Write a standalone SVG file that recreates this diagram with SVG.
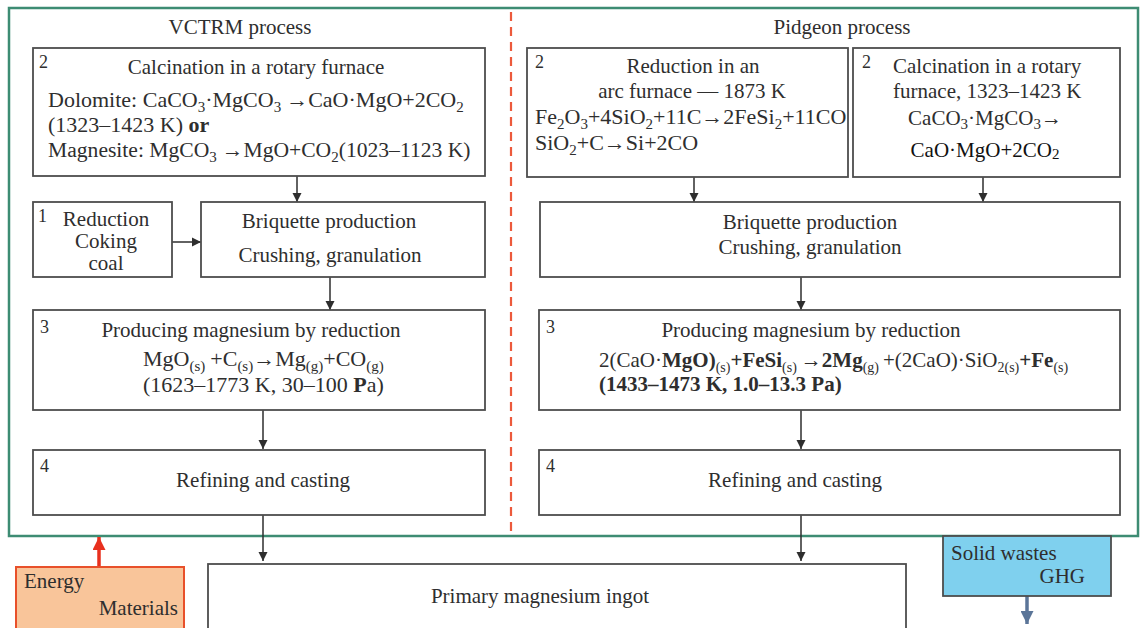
<svg xmlns="http://www.w3.org/2000/svg" width="1142" height="628" viewBox="0 0 1142 628">
<style>
.t{font-family:"Liberation Serif","Times New Roman",serif;font-size:21px;fill:#2e2e2e}
.n{font-family:"Liberation Serif","Times New Roman",serif;font-size:18px;fill:#2e2e2e}
.c{text-anchor:middle}
.b{font-weight:bold}
.w{font-size:22px}
.box{fill:#fff;stroke:#4d4d4d;stroke-width:1.8}
.ln{stroke:#2e2e2e;stroke-width:1.5;fill:none}
</style>
<defs>
<marker id="ah" viewBox="0 0 10 10" refX="10" refY="5" markerWidth="9" markerHeight="10" markerUnits="userSpaceOnUse" orient="auto">
<path d="M0,0 L10,5 L0,10 z" fill="#2e2e2e"/>
</marker>
<marker id="ahRed" viewBox="0 0 10 10" refX="10" refY="5" markerWidth="13" markerHeight="13" markerUnits="userSpaceOnUse" orient="auto">
<path d="M0,0 L10,5 L0,10 z" fill="#e8301e"/>
</marker>
<marker id="ahBlue" viewBox="0 0 10 10" refX="10" refY="5" markerWidth="13" markerHeight="13" markerUnits="userSpaceOnUse" orient="auto">
<path d="M0,0 L10,5 L0,10 z" fill="#5b7598"/>
</marker>
</defs>
<rect width="1142" height="628" fill="#fff"/>

<g id="frame">
<rect x="9" y="8" width="1129" height="528" fill="none" stroke="#3d8c73" stroke-width="2.5"/>
<line x1="511" y1="12" x2="511" y2="534" stroke="#ec5a3c" stroke-width="2.2" stroke-dasharray="9,6"/>
<text class="t c" x="240" y="34">VCTRM process</text>
<text class="t c" x="842" y="34">Pidgeon process</text>
</g>

<g id="connectors">
<line class="ln" x1="297" y1="176" x2="297" y2="202" marker-end="url(#ah)"/>
<line class="ln" x1="172" y1="242" x2="201" y2="242" marker-end="url(#ah)"/>
<line class="ln" x1="330" y1="277" x2="330" y2="310" marker-end="url(#ah)"/>
<line class="ln" x1="263" y1="410" x2="263" y2="449" marker-end="url(#ah)"/>
<line class="ln" x1="263" y1="515" x2="263" y2="561" marker-end="url(#ah)"/>
<line class="ln" x1="694" y1="177" x2="694" y2="202" marker-end="url(#ah)"/>
<line class="ln" x1="983" y1="177" x2="983" y2="202" marker-end="url(#ah)"/>
<line class="ln" x1="801" y1="277" x2="801" y2="310" marker-end="url(#ah)"/>
<line class="ln" x1="801" y1="410" x2="801" y2="449" marker-end="url(#ah)"/>
<line class="ln" x1="801" y1="515" x2="801" y2="561" marker-end="url(#ah)"/>
<line x1="99" y1="567" x2="99" y2="537" stroke="#e8301e" stroke-width="3.5" marker-end="url(#ahRed)"/>
<line x1="1027" y1="596" x2="1027" y2="624" stroke="#5b7598" stroke-width="3.5" marker-end="url(#ahBlue)"/>
</g>

<g id="vctrm-calcination">
<rect class="box" x="33" y="48" width="452" height="128"/>
<text class="n" x="39" y="68">2</text>
<text class="t c" x="256" y="74">Calcination in a rotary furnace</text>
<text class="t w" x="48" y="107">Dolomite: CaCO<tspan font-size="15" dy="5">3</tspan><tspan dy="-5">·MgCO</tspan><tspan font-size="15" dy="5">3</tspan><tspan dy="-5" dx="5">→CaO·MgO+2CO</tspan><tspan font-size="15" dy="5">2</tspan></text>
<text class="t w" x="48" y="132">(1323–1423 K) <tspan class="b">or</tspan></text>
<text class="t" x="48" y="157" style="font-size:21.6px">Magnesite: MgCO<tspan font-size="15" dy="5">3</tspan><tspan dy="-5" dx="5">→MgO+CO</tspan><tspan font-size="15" dy="5">2</tspan><tspan dy="-5">(1023–1123 K)</tspan></text>
</g>

<g id="vctrm-reduction">
<rect class="box" x="33" y="202" width="139" height="75"/>
<text class="n" x="38" y="222">1</text>
<text class="t c" x="106" y="226">Reduction</text>
<text class="t c" x="106" y="248">Coking</text>
<text class="t c" x="106" y="270">coal</text>
</g>

<g id="vctrm-briquette">
<rect class="box" x="201" y="202" width="284" height="75"/>
<text class="t c" x="329" y="228">Briquette production</text>
<text class="t c" x="330" y="262">Crushing, granulation</text>
</g>

<g id="vctrm-producing">
<rect class="box" x="33" y="310" width="452" height="100"/>
<text class="n" x="40" y="333">3</text>
<text class="t c" x="251" y="337">Producing magnesium by reduction</text>
<text class="t w" x="143" y="366">MgO<tspan font-size="15" dy="5">(s)</tspan><tspan dy="-5" dx="5">+C</tspan><tspan font-size="15" dy="5">(s)</tspan><tspan dy="-5">→Mg</tspan><tspan font-size="15" dy="5">(g)</tspan><tspan dy="-5">+CO</tspan><tspan font-size="15" dy="5">(g)</tspan></text>
<text class="t w" x="143" y="392">(1623–1773 K, 30–100 <tspan class="b">P</tspan>a)</text>
</g>

<g id="vctrm-refining">
<rect class="box" x="33" y="450" width="452" height="65"/>
<text class="n" x="40" y="472">4</text>
<text class="t c" x="263" y="487">Refining and casting</text>
</g>

<g id="pidgeon-arc">
<rect class="box" x="527" y="48" width="321" height="129"/>
<text class="n" x="535" y="68">2</text>
<text class="t c" x="693" y="73">Reduction in an</text>
<text class="t c" x="692" y="98">arc furnace — 1873 K</text>
<text class="t w" x="535" y="124">Fe<tspan font-size="15" dy="5">2</tspan><tspan dy="-5">O</tspan><tspan font-size="15" dy="5">3</tspan><tspan dy="-5">+4SiO</tspan><tspan font-size="15" dy="5">2</tspan><tspan dy="-5">+11C→2FeSi</tspan><tspan font-size="15" dy="5">2</tspan><tspan dy="-5">+11CO</tspan></text>
<text class="t w" x="535" y="150">SiO<tspan font-size="15" dy="5">2</tspan><tspan dy="-5">+C→Si+2CO</tspan></text>
</g>

<g id="pidgeon-calcination">
<rect class="box" x="853" y="48" width="267" height="129"/>
<text class="n" x="862" y="68">2</text>
<text class="t" x="893" y="73">Calcination in a rotary</text>
<text class="t" x="893" y="98">furnace, 1323–1423 K</text>
<text class="t c" x="985" y="125">CaCO<tspan font-size="15" dy="4">3</tspan><tspan dy="-4">·MgCO</tspan><tspan font-size="15" dy="4">3</tspan><tspan dy="-4">→</tspan></text>
<text class="t c" x="985" y="157" style="fill:#111">CaO·MgO+2CO<tspan font-size="15" dy="2">2</tspan></text>
</g>

<g id="pidgeon-briquette">
<rect class="box" x="540" y="202" width="580" height="75"/>
<text class="t c" x="810" y="229">Briquette production</text>
<text class="t c" x="810" y="254">Crushing, granulation</text>
</g>

<g id="pidgeon-producing">
<rect class="box" x="539" y="310" width="581" height="100"/>
<text class="n" x="546" y="333">3</text>
<text class="t c" x="811" y="337">Producing magnesium by reduction</text>
<text class="t" x="599" y="367">2(CaO·<tspan class="b">MgO)</tspan><tspan font-size="14" dy="5">(s)</tspan><tspan dy="-5" class="b">+FeSi</tspan><tspan font-size="14" dy="5">(s)</tspan><tspan dy="-5" dx="4" class="b">→2Mg</tspan><tspan font-size="14" dy="5">(g)</tspan><tspan dy="-5" dx="4">+(2CaO)·SiO</tspan><tspan font-size="14" dy="5">2(s)</tspan><tspan dy="-5" class="b">+Fe</tspan><tspan font-size="14" dy="5">(s)</tspan></text>
<text class="t b" x="599" y="391">(1433–1473 K, 1.0–13.3 Pa)</text>
</g>

<g id="pidgeon-refining">
<rect class="box" x="539" y="450" width="581" height="65"/>
<text class="n" x="546" y="472">4</text>
<text class="t c" x="795" y="487">Refining and casting</text>
</g>

<g id="ingot">
<rect class="box" x="208" y="564" width="698" height="70"/>
<text class="t c" x="540" y="603">Primary magnesium ingot</text>
</g>

<g id="energy">
<rect x="16" y="567" width="168" height="64" fill="#f9c59a" stroke="#e8502a" stroke-width="2"/>
<text class="t" x="24" y="588">Energy</text>
<text class="t" x="178" y="615" text-anchor="end">Materials</text>
</g>

<g id="wastes">
<rect x="943" y="536" width="168" height="60" fill="#7fd0ee" stroke="#4d4d4d" stroke-width="1.8"/>
<text class="t" x="951" y="560">Solid wastes</text>
<text class="t" x="1085" y="583" text-anchor="end">GHG</text>
</g>
</svg>
